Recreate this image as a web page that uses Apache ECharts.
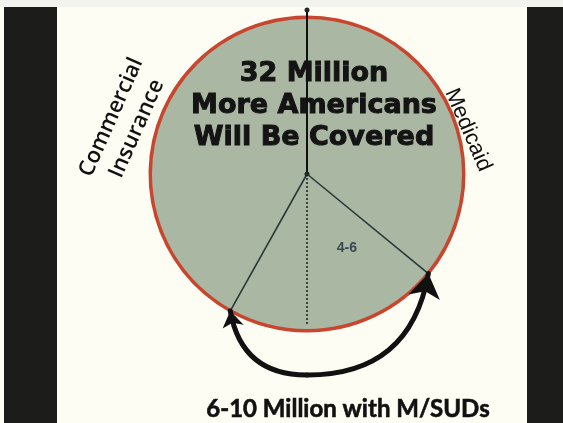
<!DOCTYPE html>
<html><head><meta charset="utf-8">
<script src="https://cdn.jsdelivr.net/npm/echarts@6/dist/echarts.min.js"></script>
<style>html,body{margin:0;padding:0;background:#fdfdf3}#chart{width:563px;height:423px}</style>
</head><body><div id="chart"></div>
<script>
// ---- data ----
const segments = ['Medicaid', 'M/SUDs (Medicaid)', 'M/SUDs (Commercial)', 'Commercial Insurance'];
const millions = [11.5, 4.5, 2.6, 13.4];
const sliceLabels = ['', '4-6', '', ''];
const totalMillions = 32;
const headline = ['32 Million', 'More Americans', 'Will Be Covered'];
const footer = '6-10 Million with M/SUDs';
const sideLabels = ['Commercial\nInsurance', 'Medicaid'];

// ---- layout ----
const CX = 307, CY = 174, R = 157;
const ARROW_DEPTH = 1.28; // radial depth of the bracket arrow's lowest point
const chart = echarts.init(document.getElementById('chart'), null, {renderer: 'canvas'});

const cum = []; let acc = 0;
millions.forEach(v => { cum.push(acc); acc += v; });
function pt(v, r) { const a = v / totalMillions * 2 * Math.PI; return [Math.sin(a) * r, Math.cos(a) * r]; }

const dividerData = cum.map((v, i) => {
  let r = 1, ls = {color: '#27393a', width: 1.6, type: 'solid', opacity: 1};
  if (i === 0) { r = 1.045; ls = {color: '#111', width: 2, type: 'solid', opacity: 1}; }
  if (i === 2) { r = 0.965; ls = {color: '#3a4541', width: 2, type: [2, 2], opacity: 1}; }
  return {coords: [[0, 0], pt(v, r)], lineStyle: ls};
});

// bracket arrow spanning the M/SUD group (from its last divider round to its first)
const leftEnd = pt(cum[3], 1.0), rightEnd = pt(cum[1], 1.0);
const bottom = [0, -ARROW_DEPTH];
const arrowStyle = {color: '#111', width: 5, curveness: -0.42, opacity: 1, cap: 'round'};

const pieBase = {
  type: 'pie', center: [CX, CY], startAngle: 90, clockwise: true,
  silent: true, animation: false, emphasis: {disabled: true},
  labelLine: {show: false},
  data: millions.map((v, i) => ({name: segments[i], value: v}))
};

const option = {
  backgroundColor: '#fdfdf3',
  animation: false,
  grid: {left: CX - R, top: CY - R, width: 2 * R, height: 2 * R, show: false},
  xAxis: {type: 'value', min: -1, max: 1, show: false},
  yAxis: {type: 'value', min: -1, max: 1, show: false},
  series: [
    Object.assign({}, pieBase, {
      z: 1, radius: R,
      itemStyle: {color: '#aab7a2', borderWidth: 0},
      label: {show: true, position: 'inside', formatter: p => sliceLabels[p.dataIndex],
              color: '#3a4858', fontFamily: 'Liberation Sans', fontWeight: 'bold', fontSize: 14, offset: [5, 0]}
    }),
    Object.assign({}, pieBase, {
      z: 1, radius: [R - 2, R + 1.5],
      itemStyle: {color: '#c8452e', borderWidth: 0},
      label: {show: false}
    }),
    {
      type: 'lines', coordinateSystem: 'cartesian2d', z: 5, silent: true, clip: false,
      data: dividerData, symbol: 'none'
    },
    {
      type: 'scatter', z: 6, silent: true, symbolSize: 5, clip: false,
      itemStyle: {color: '#1f2a28', opacity: 1},
      data: [[0, 0], dividerData[0].coords[1]]
    },
    {
      type: 'lines', coordinateSystem: 'cartesian2d', z: 6, silent: true, clip: false,
      symbol: ['arrow', 'none'], symbolSize: [16, 24],
      lineStyle: arrowStyle,
      data: [{coords: [leftEnd, bottom]}]
    },
    {
      type: 'lines', coordinateSystem: 'cartesian2d', z: 6, silent: true, clip: false,
      symbol: ['none', 'arrow'], symbolSize: [16, 24],
      lineStyle: arrowStyle,
      data: [{coords: [bottom, rightEnd]}]
    }
  ],
  graphic: [
    {type: 'rect', z: 0, shape: {x: 0, y: 0, width: 563, height: 7}, style: {fill: '#f2f2ef'}},
    {type: 'rect', z: 0, shape: {x: 4, y: 7, width: 53, height: 416}, style: {fill: '#1c1c1a'}},
    {type: 'rect', z: 0, shape: {x: 527, y: 7, width: 36, height: 416}, style: {fill: '#1c1c1a'}},
    {type: 'text', z: 3, x: 314, y: 106,
     style: {text: headline.join('\n'), font: 'bold 27px "DejaVu Sans"', fill: '#141414',
             stroke: '#141414', lineWidth: 1,
             textAlign: 'center', textVerticalAlign: 'middle', align: 'center', verticalAlign: 'middle', lineHeight: 32}},
    {type: 'text', z: 3, x: 124, y: 123, rotation: 66 * Math.PI / 180,
     style: {text: sideLabels[0], font: '600 22px "Open Sans"', fill: '#111',
             textAlign: 'center', textVerticalAlign: 'middle', align: 'center', verticalAlign: 'middle', lineHeight: 28}},
    {type: 'text', z: 3, x: 468, y: 130, rotation: -66.7 * Math.PI / 180,
     style: {text: sideLabels[1], font: '22px "Liberation Sans"', fill: '#111',
             textAlign: 'center', textVerticalAlign: 'middle', align: 'center', verticalAlign: 'middle'}},
    {type: 'text', z: 3, x: 348, y: 409,
     style: {text: footer, font: 'bold 24px Lato', fill: '#111', stroke: '#111', lineWidth: 0.6,
             textAlign: 'center', textVerticalAlign: 'middle', align: 'center', verticalAlign: 'middle'}}
  ]
};
chart.setOption(option);
</script></body></html>
